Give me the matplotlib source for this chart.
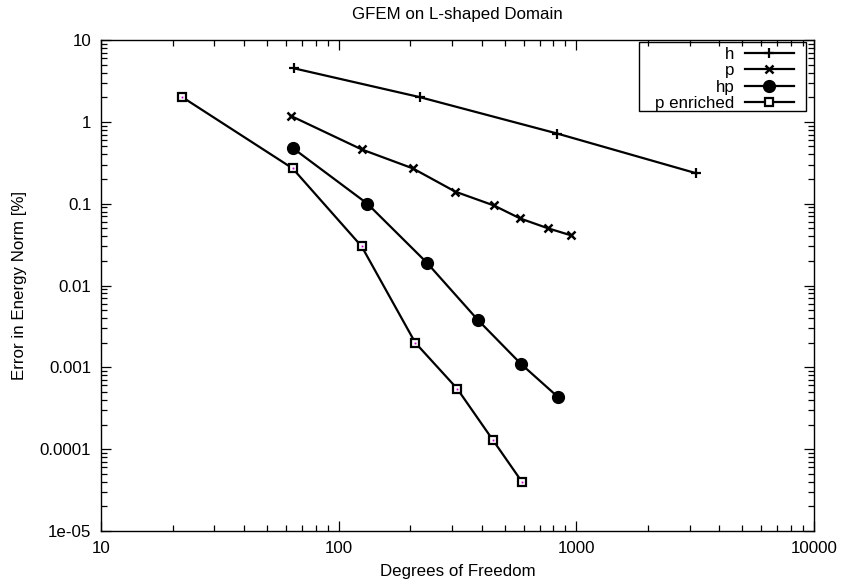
import numpy as np
import matplotlib
matplotlib.use("Agg")
import matplotlib.pyplot as plt
from matplotlib.patches import Rectangle
from matplotlib.ticker import FixedLocator, FixedFormatter, LogLocator, NullFormatter

plt.rcParams['font.family'] = ['Liberation Sans', 'DejaVu Sans']

# data
h_dof = [65, 220, 830, 3200]
h_err = [4.5, 2.0, 0.72, 0.235]

p_dof = [63, 125, 205, 310, 450, 580, 760, 950]
p_err = [1.18, 0.46, 0.27, 0.14, 0.095, 0.066, 0.05, 0.041]

hp_dof = [64, 132, 235, 385, 585, 840]
hp_err = [0.48, 0.10, 0.019, 0.0038, 0.0011, 0.00043]

pe_dof = [22, 64, 125, 210, 315, 445, 590]
pe_err = [2.0, 0.27, 0.030, 0.0020, 0.00055, 0.00013, 0.00004]

series_labels = ["h", "p", "hp", "p enriched"]
x_ticks = [10, 100, 1000, 10000]
x_ticklabels = ["10", "100", "1000", "10000"]
y_ticks = [1e-5, 1e-4, 1e-3, 1e-2, 1e-1, 1, 10]
y_ticklabels = ["1e-05", "0.0001", "0.001", "0.01", "0.1", "1", "10"]

title = "GFEM on L-shaped Domain"
xlabel = "Degrees of Freedom"
ylabel = "Error in Energy Norm [%]"

fig = plt.figure(figsize=(8.46, 5.85), dpi=100)
L, R, T, B = 101, 814, 40, 531
ax = fig.add_axes([L/846, 1-B/585, (R-L)/846, (B-T)/585])

fs = 12.2
lw = 1.6
ax.plot(h_dof, h_err, color='black', lw=lw, marker='+', ms=7, mew=1.6, label=series_labels[0])
ax.plot(p_dof, p_err, color='black', lw=lw, marker='x', ms=6, mew=1.8, label=series_labels[1])
ax.plot(hp_dof, hp_err, color='black', lw=lw, marker='o', ms=8.5, label=series_labels[2])
ax.plot(pe_dof, pe_err, color='black', lw=lw, marker='s', ms=5.6, mew=1.6, mfc='white', label=series_labels[3])
ax.plot(pe_dof, pe_err, ls='none', marker='s', ms=1.3, mew=0, color='#c000c0')

ax.set_xscale('log')
ax.set_yscale('log')
ax.set_xlim(10, 10000)
ax.set_ylim(1e-5, 10)

ax.xaxis.set_major_locator(FixedLocator(x_ticks))
ax.xaxis.set_major_formatter(FixedFormatter(x_ticklabels))
ax.yaxis.set_major_locator(FixedLocator(y_ticks))
ax.yaxis.set_major_formatter(FixedFormatter(y_ticklabels))
ax.xaxis.set_minor_locator(LogLocator(base=10, subs=np.arange(2, 10), numticks=20))
ax.yaxis.set_minor_locator(LogLocator(base=10, subs=np.arange(2, 10), numticks=20))
ax.xaxis.set_minor_formatter(NullFormatter())
ax.yaxis.set_minor_formatter(NullFormatter())

ax.tick_params(which='both', direction='in', top=True, right=True, labelsize=fs, width=0.9)
ax.tick_params(which='major', length=7, pad=7)
ax.tick_params(which='minor', length=4)
for s in ax.spines.values():
    s.set_linewidth(1.0)

ax.set_title(title, fontsize=fs, pad=15)
ax.set_xlabel(xlabel, fontsize=fs, labelpad=6)
ax.set_ylabel(ylabel, fontsize=fs, labelpad=9)

# legend (gnuplot style: text right-aligned, sample on the right)
W, H = R - L, B - T
leg = ax.legend(loc='upper right', bbox_to_anchor=((798-L)/W, (B-43)/H),
                fontsize=fs, markerfirst=False, alignment='right', frameon=False,
                handlelength=2.9, labelspacing=0.07, borderpad=0.25,
                borderaxespad=0.0, handletextpad=0.6)
ax.add_patch(Rectangle(((639-L)/W, (B-111)/H), (806-639)/W, (111-42)/H,
                       transform=ax.transAxes, fill=False, edgecolor='black',
                       lw=1.0, zorder=5))

fig.savefig("out.png", dpi=100)
